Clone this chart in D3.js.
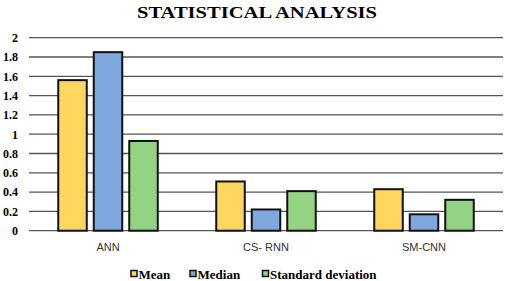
<!DOCTYPE html>
<html><head><meta charset="utf-8">
<script src="https://cdn.jsdelivr.net/npm/d3@7"></script>
<style>body{margin:0;background:#fff}svg{display:block}</style>
</head><body>
<script>
const categories = ["ANN", "CS- RNN", "SM-CNN"];
const seriesNames = ["Mean", "Median", "Standard deviation"];
const meanValues = [1.56, 0.51, 0.43];
const medianValues = [1.85, 0.22, 0.17];
const stdValues = [0.93, 0.41, 0.32];
const yTicks = [0, 0.2, 0.4, 0.6, 0.8, 1, 1.2, 1.4, 1.6, 1.8, 2];
const colors = ["#FFD75E", "#7DA7DD", "#95D384"];

const W = 505, H = 281;
const svg = d3.select("body").append("svg").attr("width", W).attr("height", H);
const m = {l: 29, r: 2, t: 37.7, b: 50.3};
const x = d3.scaleBand().domain(categories).range([m.l, W - m.r]).paddingInner(0).paddingOuter(0);
const y = d3.scaleLinear().domain([0, 2]).range([H - m.b, m.t]);

svg.append("text").attr("x", 137).attr("y", 17.5)
  .attr("font-family", "Liberation Serif, Times New Roman, serif").attr("font-weight", "bold")
  .attr("font-size", 17).attr("textLength", 240).attr("lengthAdjust", "spacingAndGlyphs")
  .text("STATISTICAL ANALYSIS");

// grid
svg.append("g").selectAll("line").data(yTicks).join("line")
  .attr("x1", m.l).attr("x2", W - m.r).attr("y1", d => y(d)).attr("y2", d => y(d))
  .attr("stroke", "#555").attr("stroke-width", 1.3);

// y axis labels
const yAxis = d3.axisLeft(y).tickValues(yTicks).tickSize(0).tickPadding(0).tickFormat(d => String(d));
const ga = svg.append("g").attr("transform", `translate(${m.l - 11},0)`).call(yAxis);
ga.select(".domain").remove();
ga.selectAll("text").attr("font-family", "Liberation Serif, Times New Roman, serif")
  .attr("font-weight", "bold").attr("font-size", 12).attr("fill", "#000");

const data = categories.map((c, i) => ({c, vals: [meanValues[i], medianValues[i], stdValues[i]]}));
const bw = 28.5, gap = 7;
const groupW = 3 * bw + 2 * gap;
const g = svg.append("g");
data.forEach(d => {
  const cx = x(d.c) + x.bandwidth() / 2;
  d.vals.forEach((v, k) => {
    g.append("rect")
      .attr("x", cx - groupW / 2 + k * (bw + gap))
      .attr("y", y(v)).attr("width", bw).attr("height", y(0) - y(v))
      .attr("fill", colors[k]).attr("stroke", "#111").attr("stroke-width", 2);
  });
});

// x labels
const xAxis = d3.axisBottom(x).tickSize(0).tickPadding(0);
const gx = svg.append("g").attr("transform", `translate(0,${y(0) + 12})`).call(xAxis);
gx.select(".domain").remove();
gx.selectAll("text").attr("font-family", "Liberation Sans, Arial, sans-serif")
  .attr("font-size", 11).attr("fill", "#333");

// legend
const legX = [131, 190, 262.5];
const lg = svg.append("g");
seriesNames.forEach((s, k) => {
  lg.append("rect").attr("x", legX[k]).attr("y", 270.5).attr("width", 6).attr("height", 6)
    .attr("fill", colors[k]).attr("stroke", "#111").attr("stroke-width", 1.5);
  lg.append("text").attr("x", legX[k] + 7.5).attr("y", 278.5)
    .attr("font-family", "Liberation Serif, Times New Roman, serif").attr("font-weight", "bold")
    .attr("font-size", 13).attr("fill", "#000").text(s);
});
</script>
</body></html>
